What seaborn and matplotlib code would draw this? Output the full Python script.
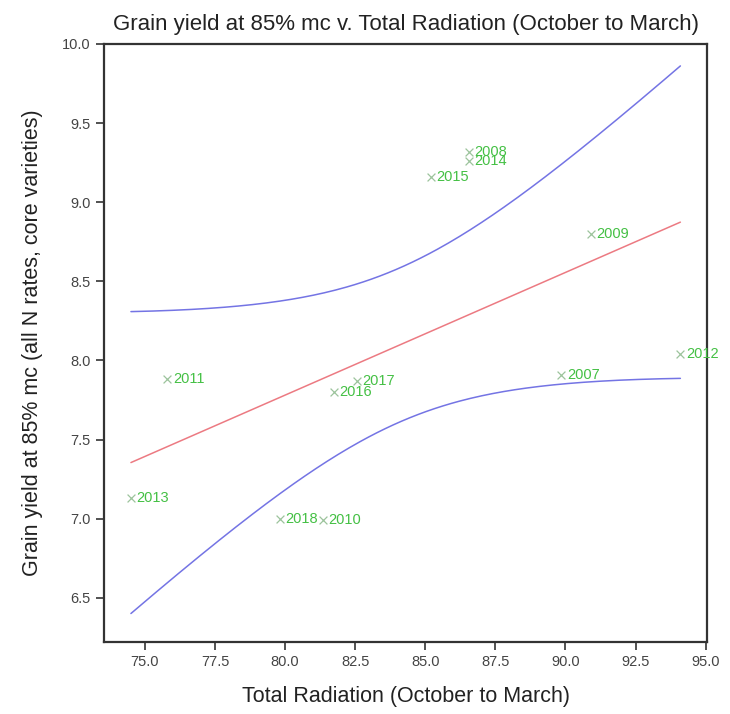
import numpy as np
import pandas as pd
import matplotlib
matplotlib.use("Agg")
import matplotlib.pyplot as plt
import seaborn as sns

# values
years = ["2008", "2014", "2015", "2009", "2012", "2007",
         "2011", "2017", "2016", "2013", "2018", "2010"]
radiation = [86.55, 86.55, 85.2, 90.9, 94.1, 89.85,
             75.8, 82.55, 81.75, 74.5, 79.8, 81.35]
grain_yield = [9.32, 9.26, 9.16, 8.80, 8.04, 7.91,
               7.88, 7.87, 7.80, 7.13, 7.00, 6.99]

df = pd.DataFrame({"Year": years, "Radiation": radiation, "Yield": grain_yield})

sns.set_style("ticks")
plt.rcParams["font.family"] = ["Liberation Sans", "DejaVu Sans"]

fig = plt.figure(figsize=(7.30, 7.14), dpi=100)
ax = fig.add_axes([0.1425, 0.1008, 0.826, 0.8376])

# fitted regression line
sns.regplot(data=df, x="Radiation", y="Yield", ci=None, scatter=False,
            line_kws={"color": "#ec7a82", "linewidth": 1.1}, ax=ax)

# 95% confidence limits for the fitted mean
x = df["Radiation"].to_numpy()
y = df["Yield"].to_numpy()
n = len(x)
slope, intercept = np.polyfit(x, y, 1)
resid = y - (intercept + slope * x)
s = np.sqrt(np.sum(resid ** 2) / (n - 2))
sxx = np.sum((x - x.mean()) ** 2)
t_crit = 2.228  # t(0.975, 10 df)
grid = np.linspace(x.min(), x.max(), 200)
fit = intercept + slope * grid
half = t_crit * s * np.sqrt(1 / n + (grid - x.mean()) ** 2 / sxx)
band = pd.DataFrame({"Radiation": grid, "upper": fit + half, "lower": fit - half})
sns.lineplot(data=band, x="Radiation", y="upper", color="#7474e4", linewidth=1.1, ax=ax)
sns.lineplot(data=band, x="Radiation", y="lower", color="#7474e4", linewidth=1.1, ax=ax)

# year markers and labels
sns.scatterplot(data=df, x="Radiation", y="Yield", marker="x", color="#9cc49c",
                s=32, linewidth=0.9, ax=ax, zorder=3)
for _, row in df.iterrows():
    ax.annotate(row["Year"], (row["Radiation"], row["Yield"]),
                xytext=(4, 0), textcoords="offset points", va="center", ha="left",
                color="#44c044", fontsize=10.5)

ax.set_xlim(73.54, 95.05)
ax.set_ylim(6.22, 10.0)
ax.set_xticks(np.arange(75, 95.1, 2.5))
ax.set_yticks(np.arange(6.5, 10.01, 0.5))
ax.set_xticklabels([f"{v:.1f}" for v in np.arange(75, 95.1, 2.5)])
ax.set_yticklabels([f"{v:.1f}" for v in np.arange(6.5, 10.01, 0.5)])
ax.tick_params(colors="#333333", labelcolor="#444444", labelsize=10.5,
               length=6, width=1.2)
for sp in ax.spines.values():
    sp.set_color("#333333")
    sp.set_linewidth(1.6)

ax.set_title("Grain yield at 85% mc v. Total Radiation (October to March)",
             fontsize=16, color="#222222", pad=10)
ax.set_xlabel("Total Radiation (October to March)", fontsize=15.5,
              color="#222222", labelpad=12)
ax.set_ylabel("Grain yield at 85% mc (all N rates, core varieties)", fontsize=15.5,
              color="#222222", labelpad=14)

fig.savefig("out.png", dpi=100)
plt.close(fig)
